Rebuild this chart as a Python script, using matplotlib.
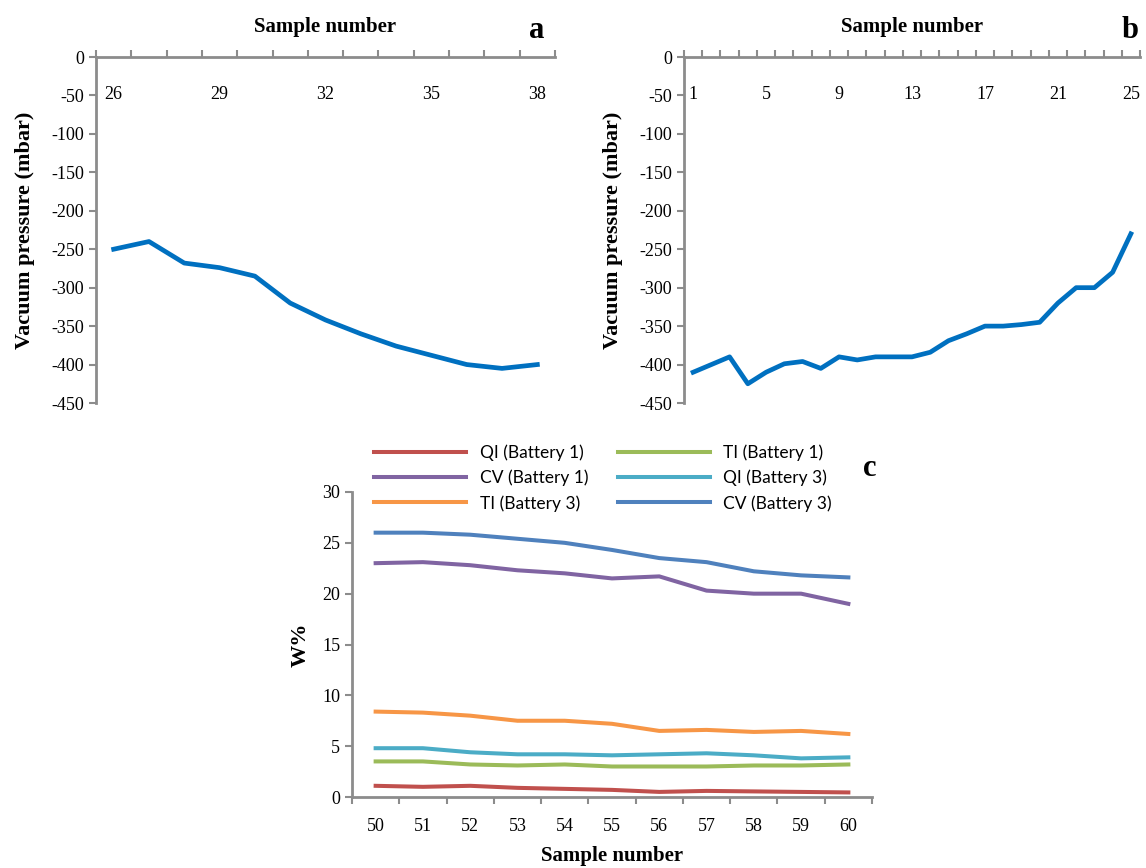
import matplotlib.pyplot as plt
import numpy as np

plt.rcParams["axes.unicode_minus"] = False

# panel a data
samples_a = list(range(26, 39))
pressure_a = [-250, -240, -268, -274, -285, -320, -342, -360, -376, -388, -400, -405, -400]

# panel b data
samples_b = list(range(1, 26))
pressure_b = [-410, -400, -390, -425, -410, -399, -396, -405, -390, -394, -390, -390, -390,
              -384, -369, -360, -350, -350, -348, -345, -320, -300, -300, -280, -230]

# panel c data
samples_c = list(range(50, 61))
qi_b1 = [1.1, 1.0, 1.1, 0.9, 0.8, 0.7, 0.5, 0.6, 0.55, 0.5, 0.45]
ti_b1 = [3.5, 3.5, 3.2, 3.1, 3.2, 3.0, 3.0, 3.0, 3.1, 3.1, 3.2]
cv_b1 = [23.0, 23.1, 22.8, 22.3, 22.0, 21.5, 21.7, 20.3, 20.0, 20.0, 19.0]
qi_b3 = [4.8, 4.8, 4.4, 4.2, 4.2, 4.1, 4.2, 4.3, 4.1, 3.8, 3.9]
ti_b3 = [8.4, 8.3, 8.0, 7.5, 7.5, 7.2, 6.5, 6.6, 6.4, 6.5, 6.2]
cv_b3 = [26.0, 26.0, 25.8, 25.4, 25.0, 24.3, 23.5, 23.1, 22.2, 21.8, 21.6]

series_c = [("QI (Battery 1)", qi_b1, "#C0504D"),
            ("TI (Battery 1)", ti_b1, "#9BBB59"),
            ("CV (Battery 1)", cv_b1, "#8064A2"),
            ("QI (Battery 3)", qi_b3, "#4BACC6"),
            ("TI (Battery 3)", ti_b3, "#F79646"),
            ("CV (Battery 3)", cv_b3, "#4F81BD")]

serif = "Liberation Serif"
spine_col = "#8c8c8c"
W, H = 1146, 868

fig = plt.figure(figsize=(W / 100, H / 100), dpi=100)


def px_axes(l, t, r, b):
    return fig.add_axes([l / W, 1 - b / H, (r - l) / W, (b - t) / H])


def pressure_panel(ax, samples, vals, step, letter, letter_x):
    x = np.arange(len(samples))
    ax.plot(x, vals, color="#0070C0", lw=3.4, solid_joinstyle="round")
    ax.set_xlim(-0.5, len(samples) - 0.5)
    ax.set_ylim(-450, 0)
    ax.set_yticks(np.arange(-450, 1, 50))
    for s in ["right", "bottom"]:
        ax.spines[s].set_visible(False)
    for s in ["left", "top"]:
        ax.spines[s].set_color(spine_col)
        ax.spines[s].set_linewidth(2)
    ax.xaxis.tick_top()
    ax.set_xticks(np.arange(-0.5, len(samples)))
    ax.set_xticklabels([])
    ax.set_xticks(x[::step], minor=True)
    ax.set_xticklabels([str(s) for s in samples[::step]], minor=True)
    ax.tick_params(axis="x", which="major", direction="out", length=5, width=1.5, color=spine_col)
    ax.tick_params(axis="x", which="minor", length=0, pad=-33, labelsize=13)
    ax.tick_params(axis="y", direction="out", length=5, width=1.5, color=spine_col, labelsize=13)
    for lab in ax.get_xticklabels(minor=True) + ax.get_yticklabels():
        lab.set_fontfamily(serif)
    ax.set_ylabel("Vacuum pressure (mbar)", fontfamily=serif, fontweight="bold", fontsize=16, labelpad=12)
    ax.set_title("Sample number", fontfamily=serif, fontweight="bold", fontsize=15, pad=18)
    fig.text(letter_x / W, 1 - 30 / H, letter, fontfamily=serif, fontweight="bold",
             fontsize=22, ha="center", va="center")


ax_a = px_axes(96, 57, 555, 403)
pressure_panel(ax_a, samples_a, pressure_a, 3, "a", 537)

ax_b = px_axes(684, 57, 1140, 403)
pressure_panel(ax_b, samples_b, pressure_b, 4, "b", 1130)

# panel c
ax_c = px_axes(352, 492, 872, 797)
xc = np.arange(len(samples_c))
handles = []
for name, vals, col in series_c:
    h, = ax_c.plot(xc, vals, color=col, lw=2.9, label=name, solid_joinstyle="round")
    handles.append(h)
ax_c.set_xlim(-0.5, len(samples_c) - 0.5)
ax_c.set_ylim(0, 30)
ax_c.set_yticks(np.arange(0, 31, 5))
for s in ["right", "top"]:
    ax_c.spines[s].set_visible(False)
for s in ["left", "bottom"]:
    ax_c.spines[s].set_color(spine_col)
    ax_c.spines[s].set_linewidth(2)
ax_c.set_xticks(np.arange(-0.5, len(samples_c)))
ax_c.set_xticklabels([])
ax_c.set_xticks(xc, minor=True)
ax_c.set_xticklabels([str(s) for s in samples_c], minor=True)
ax_c.tick_params(axis="x", which="major", direction="out", length=5, width=1.5, color=spine_col)
ax_c.tick_params(axis="x", which="minor", length=0, pad=15, labelsize=13)
ax_c.tick_params(axis="y", direction="out", length=5, width=1.5, color=spine_col, labelsize=13)
for lab in ax_c.get_xticklabels(minor=True) + ax_c.get_yticklabels():
    lab.set_fontfamily(serif)
ax_c.set_ylabel("W%", fontfamily=serif, fontweight="bold", fontsize=16, labelpad=8)
ax_c.set_xlabel("Sample number", fontfamily=serif, fontweight="bold", fontsize=15, labelpad=8)

order = [0, 2, 4, 1, 3, 5]
fig.legend([handles[i] for i in order], [handles[i].get_label() for i in order],
           ncol=2, frameon=False, loc="center left",
           bbox_to_anchor=(358 / W, 1 - 478 / H),
           prop={"family": "Lato", "size": 12.5}, handlelength=5.3, handletextpad=0.8,
           columnspacing=1.7, labelspacing=0.5)
fig.text(870 / W, 1 - 468 / H, "c", fontfamily=serif, fontweight="bold",
         fontsize=22, ha="center", va="center")

fig.savefig("out.png", dpi=100)
